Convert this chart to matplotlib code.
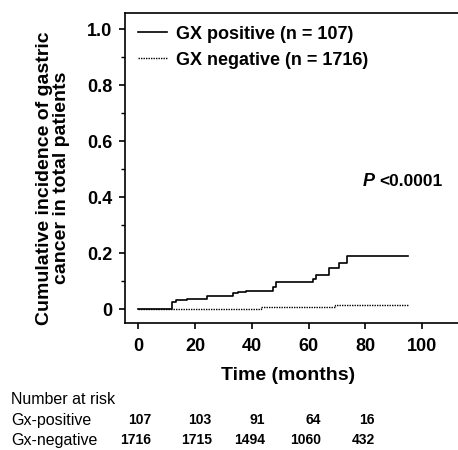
import matplotlib.pyplot as plt
import matplotlib.transforms as mtransforms

# step times (months) and cumulative incidence
pos_t = [0, 12.0, 13.3, 17.3, 24.1, 33.5, 35.0, 37.8, 47.6, 48.5, 61.6, 62.6, 67.3, 70.8, 73.4, 95.1]
pos_y = [0, 0.024, 0.032, 0.036, 0.047, 0.058, 0.060, 0.065, 0.079, 0.095, 0.108, 0.120, 0.147, 0.166, 0.190, 0.190]
neg_t = [0, 43.2, 69.3, 95.1]
neg_y = [0, 0.008, 0.015, 0.015]

risk_times = [0, 20, 40, 60, 80]
risk_pos = [107, 103, 91, 64, 16]
risk_neg = [1716, 1715, 1494, 1060, 432]

plt.rcParams['font.family'] = ['Liberation Sans', 'DejaVu Sans']

fig = plt.figure(figsize=(4.58, 4.5), dpi=100)
ax = fig.add_axes([125 / 458, 1 - 323 / 450, 1 - 125 / 458, (323 - 13) / 450])

ax.step(pos_t, pos_y, where='post', color='black', lw=1.2, label='GX positive (n = 107)')
ax.step(neg_t, neg_y, where='post', color='black', lw=1.0, linestyle=(0, (1, 0.8)),
        label='GX negative (n = 1716)')

ax.set_xlim(-4.7, 112.6)
ax.set_ylim(-0.05, 1.058)
ax.set_xticks([0, 20, 40, 60, 80, 100])
ax.set_yticks([0, 0.2, 0.4, 0.6, 0.8, 1.0])
ax.set_yticklabels(['0', '0.2', '0.4', '0.6', '0.8', '1.0'])
ax.set_yticks([0.1, 0.3, 0.5, 0.7, 0.9], minor=True)
ax.spines['right'].set_visible(False)
for s in ['left', 'top', 'bottom']:
    ax.spines[s].set_linewidth(1.2)
ax.tick_params(axis='both', which='major', length=4, width=1.2, labelsize=13)
ax.tick_params(axis='x', pad=7)
ax.tick_params(axis='y', pad=5)
ax.tick_params(axis='y', which='minor', length=3, width=1.0)
for lab in ax.get_xticklabels() + ax.get_yticklabels():
    lab.set_fontweight('bold')

leg = ax.legend(loc='upper left', bbox_to_anchor=(0.0, 1.0), frameon=False,
                prop={'weight': 'bold', 'size': 13}, handlelength=1.6,
                handletextpad=0.5, labelspacing=0.5, borderaxespad=0.3)

ax.text(79, 0.455, 'P', fontsize=13, fontweight='bold', fontstyle='italic',
        ha='left', va='center')
ax.text(85.0, 0.455, '<0.0001', fontsize=12.5, fontweight='bold', ha='left', va='center')

fig.text(53 / 458, 1 - 178 / 450, 'Cumulative incidence of gastric\ncancer in total patients',
         rotation=90, ha='center', va='center', fontsize=14, fontweight='bold',
         linespacing=1.0)
fig.text(288 / 458, 1 - 376 / 450, 'Time (months)', ha='center', va='center',
         fontsize=14, fontweight='bold')

fig.text(11 / 458, 1 - 399 / 450, 'Number at risk', ha='left', va='center', fontsize=11.5)
fig.text(11 / 458, 1 - 420 / 450, 'Gx-positive', ha='left', va='center', fontsize=11.5)
fig.text(11 / 458, 1 - 440 / 450, 'Gx-negative', ha='left', va='center', fontsize=11.5)

trans = mtransforms.blended_transform_factory(ax.transData, fig.transFigure)
col_right = [4.6, 25.9, 44.6, 64.3, 83.3]
for xr, p, n in zip(col_right, risk_pos, risk_neg):
    ax.text(xr, 1 - 420 / 450, str(p), transform=trans, ha='right', va='center',
            fontsize=10, fontweight='bold', clip_on=False)
    ax.text(xr, 1 - 440 / 450, str(n), transform=trans, ha='right', va='center',
            fontsize=10, fontweight='bold', clip_on=False)

fig.savefig('out.png', dpi=100)
